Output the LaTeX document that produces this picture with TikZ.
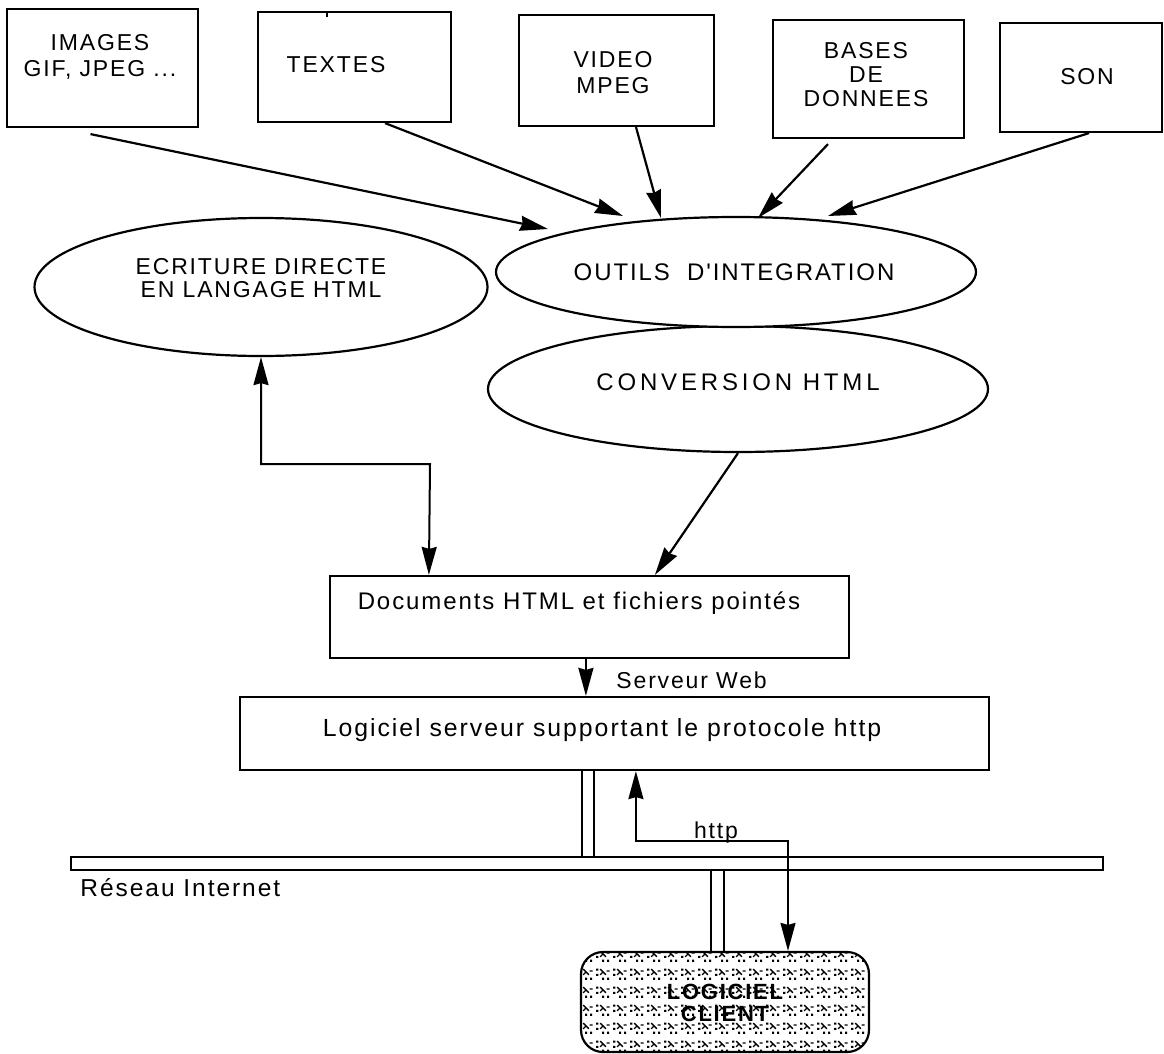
\documentclass[tikz,border=0pt]{standalone}
\usepackage{fontspec}
\setmainfont{Liberation Sans}
\newfontfamily\lsfont[LetterSpace=8]{Liberation Sans}
\newfontfamily\lswide[LetterSpace=16]{Liberation Sans}
\usetikzlibrary{shapes.geometric, arrows.meta, calc, patterns.meta}

\tikzdeclarepattern{
  name=clientpat,
  type=uncolored,
  bottom left={(0pt,0pt)},
  top right={(17pt,18pt)},
  tile size={(17pt,18pt)},
  code={
    \fill (1.3pt,11.8pt) rectangle (3.5pt,14pt);
    \fill (1.3pt,6.3pt) rectangle (3.5pt,8.5pt);
    \draw[line width=1.4pt] (5.5pt,13.5pt) -- (11.5pt,7.5pt);
    \draw[line width=1.4pt] (5.5pt,7.5pt) -- (8.5pt,10.5pt);
    \draw[line width=1.4pt] (12.3pt,11.5pt) -- (15.5pt,11.5pt);
    \fill (12.8pt,2.3pt) rectangle (15pt,4.5pt);
    \fill (7.5pt,2.3pt) rectangle (9.7pt,4.5pt);
  }
}

\begin{document}
\begin{tikzpicture}[x=1pt, y=-1pt, line width=2.2pt,
  txt/.style={font=\lsfont\fontsize{23}{26}\selectfont, align=center},
  srcbox/.style={draw, line width=2.2pt, inner sep=0pt, txt},
  oval/.style={draw, ellipse, line width=2.2pt, inner sep=0pt, txt},
  arr/.style={-{Stealth[length=28pt,width=15pt,inset=2pt]}, line width=2.2pt},
  dblarr/.style={{Stealth[length=28pt,width=15pt,inset=2pt]}-{Stealth[length=28pt,width=15pt,inset=2pt]}, line width=2pt},
  thin/.style={line width=1.8pt}
]
\useasboundingbox (0,0) rectangle (1164,1054);
\fill[white] (0,0) rectangle (1164,1054);

% source boxes
\node[srcbox, minimum width=191pt, minimum height=118pt] (img) at (102.5,68) {};
\node[txt, anchor=center] (imgt) at (100,56.5) {IMAGES\\GIF, JPEG ...};
\node[srcbox, minimum width=193pt, minimum height=110pt] (texts) at (354.5,67) {};
\node[txt] (textst) at (336,65) {TEXTES};
\node[srcbox, minimum width=195pt, minimum height=111pt] (video) at (616.5,70.5) {};
\node[txt] (videot) at (613,72.5) {VIDEO\\MPEG};
\node[srcbox, minimum width=191pt, minimum height=118pt] (bases) at (868.5,79) {};
\node[txt, font=\lsfont\fontsize{23}{24}\selectfont] (basest) at (866,75) {BASES\\DE\\DONNEES};
\node[srcbox, minimum width=162pt, minimum height=109pt] (son) at (1081,77.5) {};
\node[txt] (sont) at (1087,77) {SON};
\draw[line width=2.4pt] (327,12) -- (327,17);

% ellipses
\node[oval, minimum width=453pt, minimum height=138pt] (ecr) at (261,287) {};
\node[txt, font=\lsfont\fontsize{23}{23.5}\selectfont] (ecrt) at (261,278) {ECRITURE DIRECTE\\EN LANGAGE HTML};
\node[oval, minimum width=500pt, minimum height=126pt] (conv) at (738,389) {};
\node[txt, font=\lswide\fontsize{24}{26}\selectfont] (convt) at (738,382) {CONVERSION HTML};
\node[oval, fill=white, minimum width=480pt, minimum height=110pt] (outils) at (736,272) {};
\node[txt, font=\lsfont\fontsize{24}{26}\selectfont] (outilst) at (734,272) {OUTILS\ \ D'INTEGRATION};

% arrows into OUTILS
\draw[arr] ([shift={(-12,6)}]img.south) -- ($(outils.center)+(-188,-43)$);
\draw[arr] ([shift={(30.5,0)}]texts.south) -- ($(outils.center)+(-113,-56)$);
\draw[arr] ([shift={(19.5,0)}]video.south) -- ($(outils.center)+(-75,-54)$);
\draw[arr] ([shift={(-40.5,5)}]bases.south) -- ($(outils.center)+(22,-54)$);
\draw[arr] ([shift={(8,0)}]son.south) -- ($(outils.center)+(92,-56)$);

% documents and server
\node[srcbox, minimum width=519pt, minimum height=82pt] (doc) at (589.5,617) {};
\node[txt, font=\lsfont\fontsize{24}{26}\selectfont] (doct) at (579,603) {Documents HTML et fichiers pointés};
\node[srcbox, minimum width=749pt, minimum height=73pt] (log) at (614.5,733.5) {};
\node[txt, font=\lsfont\fontsize{24.8}{26}\selectfont] (logt) at (602,730) {Logiciel serveur supportant le protocole http};

\coordinate (bend) at (430,464);
\draw[dblarr] (ecr.south) |- (bend) -- ([xshift=100]doc.north west);
\draw[arr] (conv.south) -- ([xshift=326]doc.north west);
\draw[arr] ([xshift=257]doc.south west) -- ([xshift=257]doc.south west |- log.north);
\node[txt, anchor=west] (sw) at (612,680) {Serveur Web};

% network bus
\node[draw, line width=2pt, minimum width=1032pt, minimum height=13pt, inner sep=0pt] (bus) at (587,863.5) {};
\node[txt, font=\lsfont\fontsize{24.5}{26}\selectfont, anchor=west] (bust) at (76,888) {Réseau Internet};

% client
\node[draw, line width=2.2pt, rounded corners=22pt, minimum width=288pt, minimum height=100pt,
      pattern={clientpat}, inner sep=0pt] (client) at (725,1002) {};
\node[txt, font=\lsfont\bfseries\fontsize{22}{22}\selectfont] (clientt) at (725,1003) {LOGICIEL\\CLIENT};

% links server - bus - client
\draw[thin] ([xshift=343]log.south west) -- ([xshift=343]log.south west |- bus.north);
\draw[thin] ([xshift=355]log.south west) -- ([xshift=355]log.south west |- bus.north);
\draw[thin] ([xshift=-14]client.north) -- ([xshift=-14]client.north |- bus.south);
\draw[thin] ([xshift=-1]client.north) -- ([xshift=-1]client.north |- bus.south);

\coordinate (hc) at (700,841);
\draw[dblarr, line width=1.8pt] ([xshift=397]log.south west) |- (hc) -| ([xshift=63]client.north);
\node[txt, anchor=base, inner sep=0pt] (httpt) at (716,838) {http};
\end{tikzpicture}
\end{document}
